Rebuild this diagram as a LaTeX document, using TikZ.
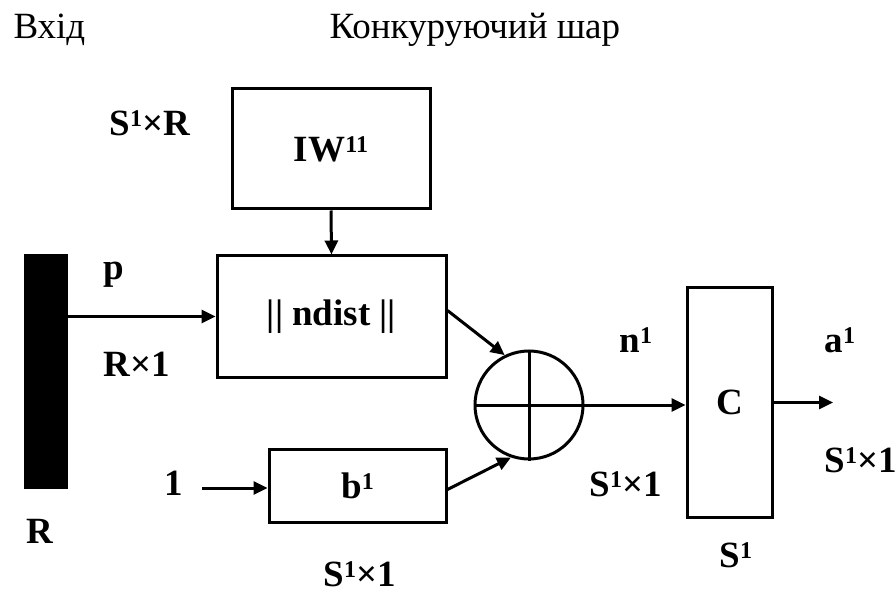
\documentclass[tikz,border=0pt]{standalone}
\usepackage{fontspec}
\setmainfont{Liberation Serif}
\usetikzlibrary{arrows.meta}
\newcommand{\sups}[1]{\raisebox{9pt}{\fontsize{24}{24}\selectfont #1}}
\begin{document}
\begin{tikzpicture}[x=1pt,y=-1pt, line width=3pt,
  blk/.style={draw, rectangle, inner sep=0pt, font=\fontsize{37}{40}\selectfont\bfseries},
  lbl/.style={inner sep=0pt, anchor=base west, font=\fontsize{37}{40}\selectfont\bfseries},
  hdr/.style={inner sep=0pt, anchor=base west, font=\fontsize{37}{40}\selectfont},
  arr/.style={-{Triangle[length=14pt,width=13pt]}}]
\useasboundingbox (0,0) rectangle (896,593);
% headers
\node[hdr] (h1) at (12,39) {Вхід};
\node[hdr] (h2) at (328,39) {Конкуруючий шар};
% blocks
\node[draw, fill=black, rectangle, inner sep=0pt, minimum width=41pt, minimum height=231pt] (bar) at (45.5,371.5) {};
\node[blk, minimum width=198pt, minimum height=120pt] (iw) at (331,149) {IW\sups{11}};
\node[blk, minimum width=229pt, minimum height=121pt] (nd) at (331.5,316.5) {|| ndist ||};
\node[blk, minimum width=177pt, minimum height=73pt] (b1) at (357.5,485.5) {b\sups{1}};
\node[draw, circle, inner sep=0pt, minimum size=108pt] (sum) at (529,405) {};
\draw (sum.west) -- (sum.east);
\draw (sum.north) -- (sum.south);
\node[blk, minimum width=85pt, minimum height=229pt] (c) at (729.5,402.5) {C};
% labels
\node[lbl] (l1) at (108,136) {S\sups{1}×R};
\node[lbl] (l2) at (102,280) {p};
\node[lbl] (l3) at (102,376) {R×1};
\node[lbl] (l4) at (25,543) {R};
\node[lbl] (one) at (163,495) {1};
\node[lbl] (l5) at (322,586) {S\sups{1}×1};
\node[lbl] (l6) at (618,352) {n\sups{1}};
\node[lbl] (l7) at (588,496) {S\sups{1}×1};
\node[lbl] (l8) at (718,567) {S\sups{1}};
\node[lbl] (l9) at (823,352) {a\sups{1}};
\node[lbl] (l10) at (823,472) {S\sups{1}×1};
% connectors
\coordinate (in1) at (202,488);
\coordinate (out) at (833,402);
\draw[arr] (iw.south) -- (nd.north);
\draw[arr] (bar.east |- nd.west) -- (nd.west);
\draw[arr] (in1) -- (in1 -| b1.west);
\draw[arr] ([yshift=6pt]nd.east) -- (sum.116);
\draw[arr] ([yshift=-4pt]b1.east) -- (sum.251);
\draw[arr] (sum.east) -- (sum.east -| c.west);
\draw[arr] (c.east) -- (c.east -| out);
\end{tikzpicture}
\end{document}
